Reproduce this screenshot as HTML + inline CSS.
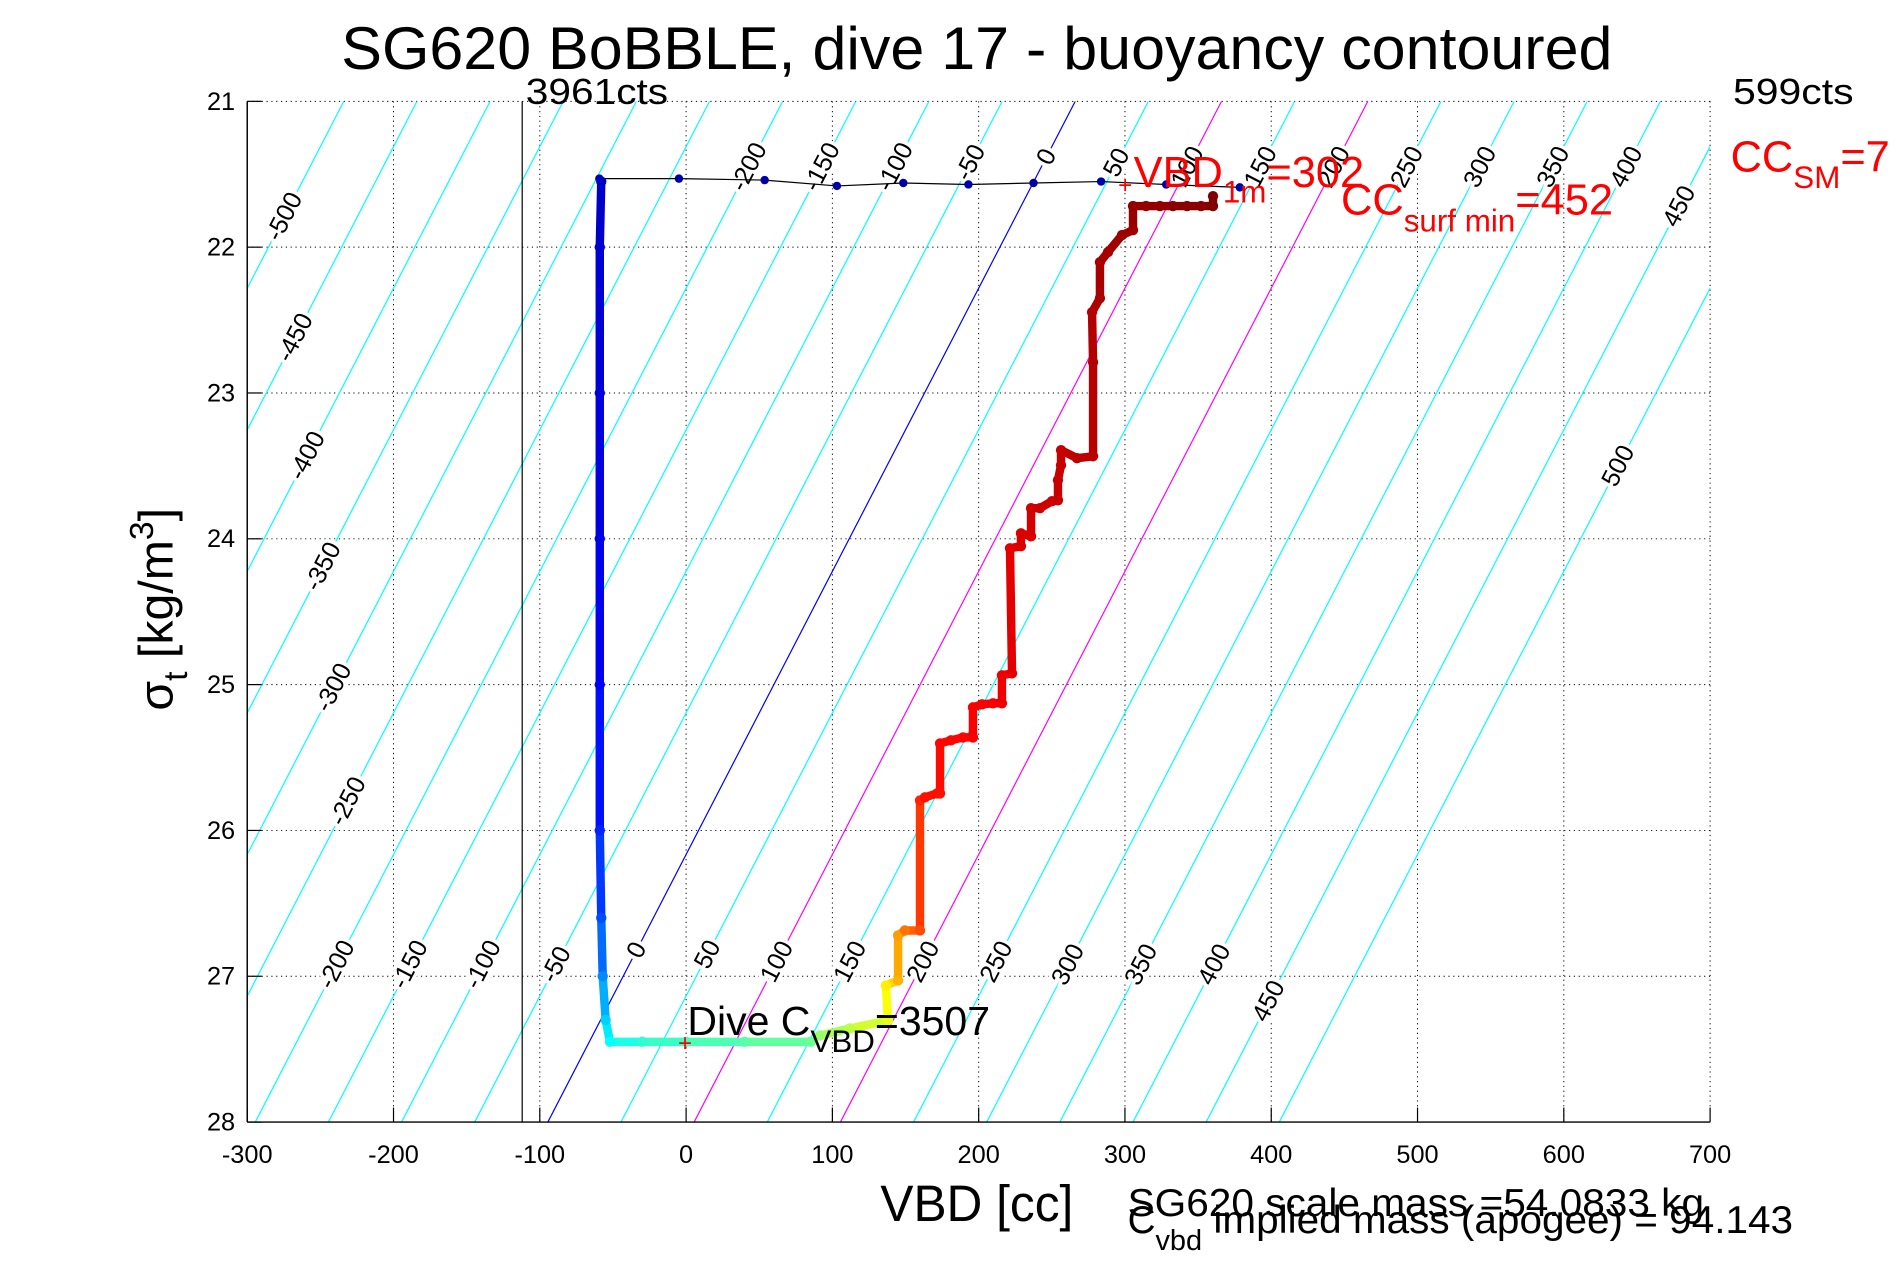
<!DOCTYPE html>
<html><head><meta charset="utf-8"><style>
html,body{margin:0;padding:0;background:#fff;}
svg{display:block;font-family:"Liberation Sans",sans-serif;}
</style></head><body>
<svg id="chart" width="1891" height="1262" viewBox="0 0 1568 1046" preserveAspectRatio="none" xmlns="http://www.w3.org/2000/svg">
<defs><clipPath id="plotclip"><rect x="205" y="84" width="1213" height="846"/></clipPath></defs>
<rect x="0" y="0" width="1568" height="1046" fill="#fff"/>
<text x="810" y="57" font-size="50" text-anchor="middle" textLength="1054" lengthAdjust="spacingAndGlyphs">SG620 BoBBLE, dive 17 - buoyancy contoured</text>
<g id="grid"></g>
<g id="contours" clip-path="url(#plotclip)"></g>
<g id="contourLabels"></g>
<line x1="433" y1="84" x2="433" y2="930" stroke="#000" stroke-width="1"/>
<g id="series" clip-path="url(#plotclip)"></g>
<g id="axes"></g>
<text x="436" y="86" font-size="30" textLength="118" lengthAdjust="spacingAndGlyphs">3961cts</text>
<text x="1437" y="86" font-size="30" textLength="100" lengthAdjust="spacingAndGlyphs">599cts</text>
<text transform="translate(143,505) rotate(-90)" font-size="40" text-anchor="middle">σ<tspan font-size="28" dy="12">t</tspan><tspan dy="-12"> [kg/m</tspan><tspan font-size="28" dy="-16">3</tspan><tspan dy="16">]</tspan></text>
<text x="810" y="1012" font-size="42" text-anchor="middle" textLength="160" lengthAdjust="spacingAndGlyphs">VBD [cc]</text>
<text x="935" y="1008" font-size="32" textLength="478" lengthAdjust="spacingAndGlyphs">SG620 scale mass =54.0833 kg</text>
<text x="935" y="1022" font-size="32">C<tspan font-size="24" dy="14">vbd</tspan><tspan dy="-14" textLength="490" lengthAdjust="spacingAndGlyphs"> implied mass (apogee) = 94.143</tspan></text>
<text x="940" y="155" font-size="36" fill="#f00">VBD<tspan font-size="26" dy="13">1m</tspan><tspan dy="-13">=302</tspan></text>
<text x="1112" y="178" font-size="36" fill="#f00">CC<tspan font-size="26" dy="14">surf min</tspan><tspan dy="-14">=452</tspan></text>
<text x="1435" y="142" font-size="36" fill="#f00">CC<tspan font-size="26" dy="14">SM</tspan><tspan dy="-14">=7</tspan></text>
<text x="570" y="858" font-size="34">Dive C<tspan font-size="26" dy="14">VBD</tspan><tspan dy="-14">=3507</tspan></text>
<text x="933" y="160" font-size="20" fill="#f00" text-anchor="middle">+</text>
<text x="568" y="871" font-size="20" fill="#f00" text-anchor="middle">+</text>
</svg>
<script>
const xTicks=[-300,-200,-100,0,100,200,300,400,500,600,700];
const yTicks=[21,22,23,24,25,26,27,28];
const contourB=[-500,-450,-400,-350,-300,-250,-200,-150,-100,-50,0,50,100,150,200,250,300,350,400,450,500];
const labelB=[-500,-450,-400,-350,-300,-250,-200,-150,-100,-50,0,50,100,150,200,250,300,350,400,450,-200,-150,-100,-50,0,50,100,150,200,250,300,350,400,450,500];
const labelSigma=[21.79,22.62,23.43,24.19,25.02,25.8,26.92,26.92,26.92,26.92,26.82,26.85,26.9,26.9,26.9,26.9,26.92,26.92,26.92,27.17,21.45,21.45,21.45,21.42,21.38,21.42,21.45,21.45,21.45,21.45,21.45,21.45,21.45,21.72,23.5];
const surfVbd=[-59.3,-4.9,53.7,103.1,148.5,193,237.5,283.7,328.2,378.5];
const surfSigma=[21.53,21.53,21.54,21.58,21.56,21.57,21.56,21.55,21.57,21.59];
const diveVbd=[-58,-59,-59,-59,-59,-59,-58,-57,-55,-52,-30,0,40,85];
const diveSigma=[21.55,22.0,23.0,24.0,25.0,26.0,26.6,27.0,27.3,27.45,27.45,27.45,27.45,27.45];
const diveT=[0.07,0.08,0.09,0.1,0.12,0.16,0.2,0.26,0.33,0.38,0.42,0.44,0.46,0.48];
const climbVbd=[91.5,112.0,138.0,136.6,144.9,144.9,149.6,159.9,159.9,163.3,171.5,173.6,173.6,181.1,189.3,196.1,196.1,202.3,209.8,215.9,215.9,222.8,221.4,228.9,228.9,235.8,235.8,241.9,250.1,254.2,254.2,256.3,256.3,267.2,278.2,278.2,277.5,282.9,282.9,288.4,298.0,305.5,305.5,314.4,323.9,332.8,342.4,352.0,360.2,360.2];
const climbSigma=[27.406,27.358,27.303,27.063,27.029,26.720,26.686,26.686,25.794,25.773,25.746,25.746,25.403,25.382,25.362,25.362,25.156,25.135,25.128,25.128,24.936,24.923,24.065,24.051,23.962,23.983,23.790,23.790,23.742,23.736,23.598,23.495,23.392,23.447,23.434,22.789,22.446,22.350,22.103,22.034,21.917,21.883,21.718,21.718,21.718,21.718,21.718,21.718,21.718,21.650];
const climbT=[0.52,0.56,0.6,0.64,0.7,0.72,0.76,0.8,0.84,0.86,0.86,0.86,0.87,0.87,0.87,0.88,0.88,0.88,0.88,0.89,0.89,0.9,0.9,0.91,0.91,0.91,0.92,0.92,0.92,0.93,0.93,0.93,0.93,0.94,0.94,0.95,0.95,0.96,0.96,0.96,0.97,0.97,0.98,0.98,0.98,0.99,0.99,0.99,1.0,1.0];

const NS="http://www.w3.org/2000/svg";
function X(v){return 205+(v+300)*1.213;}
function Y(s){return 84+(s-21)*120.86;}
function cv(b,s){return -94.5+b+51.5*(28-s);}
function mk(tag,attrs,parent){const e=document.createElementNS(NS,tag);for(const k in attrs)e.setAttribute(k,attrs[k]);parent.appendChild(e);return e;}
function jet(t){const c=v=>Math.round(255*Math.max(0,Math.min(1,v)));return `rgb(${c(1.5-Math.abs(4*t-3))},${c(1.5-Math.abs(4*t-2))},${c(1.5-Math.abs(4*t-1))})`;}
const grid=document.getElementById('grid'),axes=document.getElementById('axes');
xTicks.forEach(v=>{
  const g=mk('line',{x1:X(v),y1:84,x2:X(v),y2:930,stroke:'#000','stroke-width':0.8,'stroke-dasharray':'1 3'},grid);
  
  
  const t=mk('line',{x1:X(v),y1:930,x2:X(v),y2:918,stroke:'#000','stroke-width':1},axes);
  
  
  const l=mk('text',{x:X(v),y:964,'font-size':21,'text-anchor':'middle'},axes);l.textContent=v;
  
  
});
yTicks.forEach(v=>{
  const g=mk('line',{x1:205,y1:Y(v),x2:1418,y2:Y(v),stroke:'#000','stroke-width':0.8,'stroke-dasharray':'1 3'},grid);
  
  
  const t=mk('line',{x1:205,y1:Y(v),x2:217,y2:Y(v),stroke:'#000','stroke-width':1},axes);
  
  
  const l=mk('text',{x:195,y:Y(v)+7,'font-size':21,'text-anchor':'end'},axes);l.textContent=v;
  
  
});
const ax1=mk('line',{x1:205,y1:84,x2:205,y2:930,stroke:'#000','stroke-width':1.2},axes);


const ax2=mk('line',{x1:205,y1:930,x2:1418,y2:930,stroke:'#000','stroke-width':1.2},axes);


const cont=document.getElementById('contours');
contourB.forEach(b=>{
  const col=b===0?'#0000ff':(b===100||b===200)?'#ff00ff':'#00ffff';
  const ln=mk('line',{x1:X(cv(b,28)),y1:Y(28),x2:X(cv(b,21)),y2:Y(21),stroke:col,'stroke-width':1},cont);
  
  
});
const cl=document.getElementById('contourLabels');
labelB.forEach((b,i)=>{
  const s=labelSigma[i],x=X(cv(b,s)),y=Y(s);
  const t=mk('text',{x:x,y:y,'font-size':21,'text-anchor':'middle','dominant-baseline':'central',transform:`rotate(-62.7 ${x} ${y})`,stroke:'#fff','stroke-width':6,'paint-order':'stroke'},cl);
  t.textContent=b;
  
  
});
const ser=document.getElementById('series');
const sp=surfVbd.map((v,i)=>X(v)+','+Y(surfSigma[i])).join(' ');
const spl=mk('polyline',{points:sp,fill:'none',stroke:'#000','stroke-width':1},ser);


surfVbd.forEach((v,i)=>{const c=mk('circle',{cx:X(v),cy:Y(surfSigma[i]),r:3.5,fill:'#0000a8'},ser);
  
  
});
function drawTrack(vs,ss,ts,name,w){
  const pl=mk('polyline',{points:vs.map((v,i)=>X(v)+','+Y(ss[i])).join(' '),fill:'none',stroke:'#000','stroke-width':1},ser);
  
  
  for(let i=0;i+1<vs.length;i++){
    const seg=mk('line',{x1:X(vs[i]),y1:Y(ss[i]),x2:X(vs[i+1]),y2:Y(ss[i+1]),stroke:jet((ts[i]+ts[i+1])/2),'stroke-width':w,'stroke-linecap':'round'},ser);
    
    
  }
  vs.forEach((v,i)=>{const c=mk('circle',{cx:X(v),cy:Y(ss[i]),r:w/2+0.8,fill:jet(ts[i])},ser);
    
    
  });
}
drawTrack(diveVbd,diveSigma,diveT,'dive',7);
drawTrack(climbVbd,climbSigma,climbT,'climb',7);
</script>
</body></html>
